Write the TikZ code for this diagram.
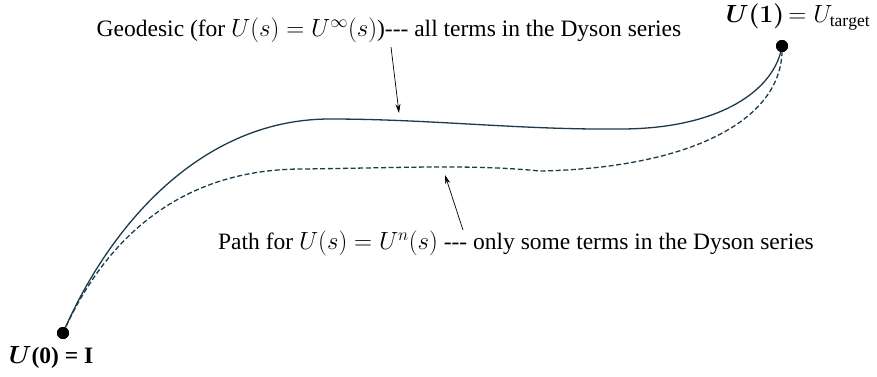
\documentclass[tikz,border=0pt]{standalone}
\usepackage{fontspec}
\setmainfont{Liberation Serif}
\usetikzlibrary{arrows.meta}
\definecolor{pathcol}{HTML}{1C3A4A}
\newcommand{\tdash}{{-}{-}{-}}
\newcommand{\mymath}[1]{{\fontsize{26.5}{28}\selectfont$#1$}}
\tikzset{
  dotnode/.style={circle,fill=black,inner sep=0pt,minimum size=12pt},
  lbl/.style={inner sep=0pt,font=\fontsize{23.5}{26}\selectfont},
  geo/.style={draw=pathcol,line width=1.3pt},
  approx/.style={draw=pathcol,line width=1.3pt,dash pattern=on 5pt off 2.6pt},
  pointer/.style={draw=black,line width=0.7pt,-{Stealth[length=9pt,width=5pt]}}
}
\begin{document}
\begin{tikzpicture}[x=1pt,y=-1pt]
\useasboundingbox (0,0) rectangle (877,376);
\node[dotnode] (s) at (63,333) {};
\node[dotnode] (e) at (782,46) {};
\node[lbl,anchor=center] (sl) at (51,357) {{\boldmath$U$}\textbf{(0) = I}};
\node[lbl,anchor=center] (el) at (798,17) {{\fontsize{25}{27}\selectfont{\boldmath$U(1)$}$\,=U_{\mathrm{target}}$}};
\node[lbl,anchor=center] (gt) at (389,30) {Geodesic (for \mymath{U(s)=U^{\infty}(s)})\tdash{} all terms in the Dyson series};
\node[lbl,anchor=center] (pt) at (516,243) {Path for \mymath{U(s)=U^{n}(s)} \tdash{} only some terms in the Dyson series};
\coordinate (gtip) at (399,113);
\coordinate (gtail) at (391,47);
\coordinate (ptip) at (445,175);
\coordinate (ptail) at (463,230);
\coordinate (g1) at (330,119);
\coordinate (g2) at (620,129);
\coordinate (d1) at (300,169);
\coordinate (d2) at (540,171);
\draw[geo] (s.center) .. controls (105,235) and (195,119) .. (g1)
  .. controls (430,119) and (520,130) .. (g2)
  .. controls (720,129) and (775,90) .. (e.center);
\draw[approx] (s.center) .. controls (100,250) and (170,170) .. (d1)
  .. controls (400,168) and (470,164) .. (d2)
  .. controls (690,168) and (785,120) .. (e.center);
\node[dotnode] at (s.center) {};
\node[dotnode] at (e.center) {};
\draw[pointer] (gtail) -- (gtip);
\draw[pointer] (ptail) -- (ptip);
\end{tikzpicture}
\end{document}
